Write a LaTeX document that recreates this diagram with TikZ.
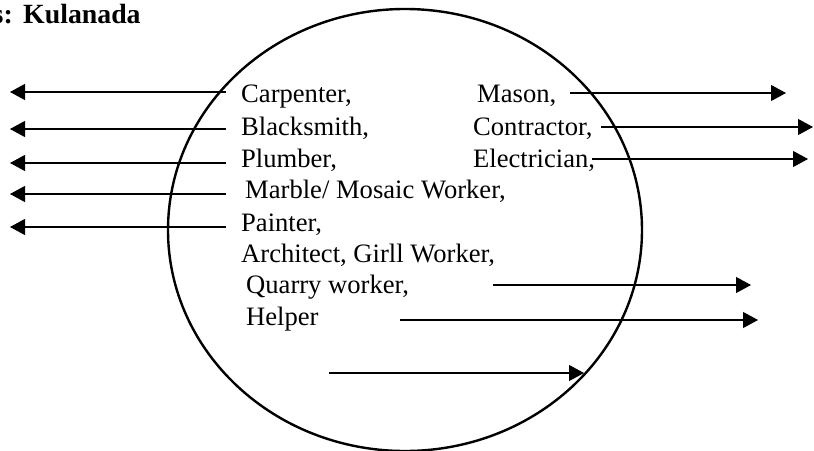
\documentclass[tikz,border=0pt]{standalone}
\usepackage{fontspec}
\setmainfont{Liberation Serif}
\usetikzlibrary{arrows.meta}
\begin{document}
\begin{tikzpicture}[x=1pt,y=-1pt,
  lbl/.style={anchor=base west,inner sep=0pt,font=\fontsize{26.6}{31}\selectfont},
  conn/.style={line width=1.1pt,-{Triangle[length=15pt,width=16pt]}},
  ring/.style={line width=2.4pt}]
\useasboundingbox (0,0) rectangle (814,450);
% title
\node[anchor=base west,inner sep=0pt,font=\fontsize{27.8}{32}\bfseries\selectfont] (kul) at (23,23) {Kulanada};
\node[anchor=base east,inner sep=0pt,font=\fontsize{27.8}{32}\bfseries\selectfont] (ttl) at (13,23) {s:};
% circle
\draw[ring] (405,230) ellipse [x radius=237, y radius=221];
% left column
\node[lbl] (carp) at (241,102) {Carpenter,};
\node[lbl] (black) at (241,135) {Blacksmith,};
\node[lbl] (plumb) at (241,167) {Plumber,};
\node[lbl] (marb) at (245,198) {Marble/ Mosaic Worker,};
\node[lbl] (paint) at (241,231) {Painter,};
\node[lbl] (arch) at (241,262) {Architect, Girll Worker,};
\node[lbl] (quar) at (246,293) {Quarry worker,};
\node[lbl] (help) at (246,325) {Helper};
% right column
\node[lbl] (mason) at (477,102) {Mason,};
\node[lbl] (contr) at (473,135) {Contractor,};
\node[lbl] (elec) at (473,167) {Electrician,};
% endpoints
\coordinate (a1s) at (226,92);  \coordinate (a1e) at (10,92);
\coordinate (a2s) at (226,129); \coordinate (a2e) at (10,129);
\coordinate (a3s) at (226,163); \coordinate (a3e) at (10,163);
\coordinate (a4s) at (226,194); \coordinate (a4e) at (10,194);
\coordinate (a5s) at (226,227); \coordinate (a5e) at (10,227);
\coordinate (b1s) at (570,93);  \coordinate (b1e) at (786,93);
\coordinate (b2s) at (601,127); \coordinate (b2e) at (813,127);
\coordinate (b3s) at (592,159); \coordinate (b3e) at (808,159);
\coordinate (c1s) at (493,285); \coordinate (c1e) at (751,285);
\coordinate (c2s) at (400,320); \coordinate (c2e) at (758,320);
\coordinate (c3s) at (329,373); \coordinate (c3e) at (584,373);
\foreach \s/\e in {a1s/a1e,a2s/a2e,a3s/a3e,a4s/a4e,a5s/a5e,b1s/b1e,b2s/b2e,b3s/b3e,c1s/c1e,c2s/c2e,c3s/c3e}
  \draw[conn] (\s) -- (\e);
\end{tikzpicture}
\end{document}
